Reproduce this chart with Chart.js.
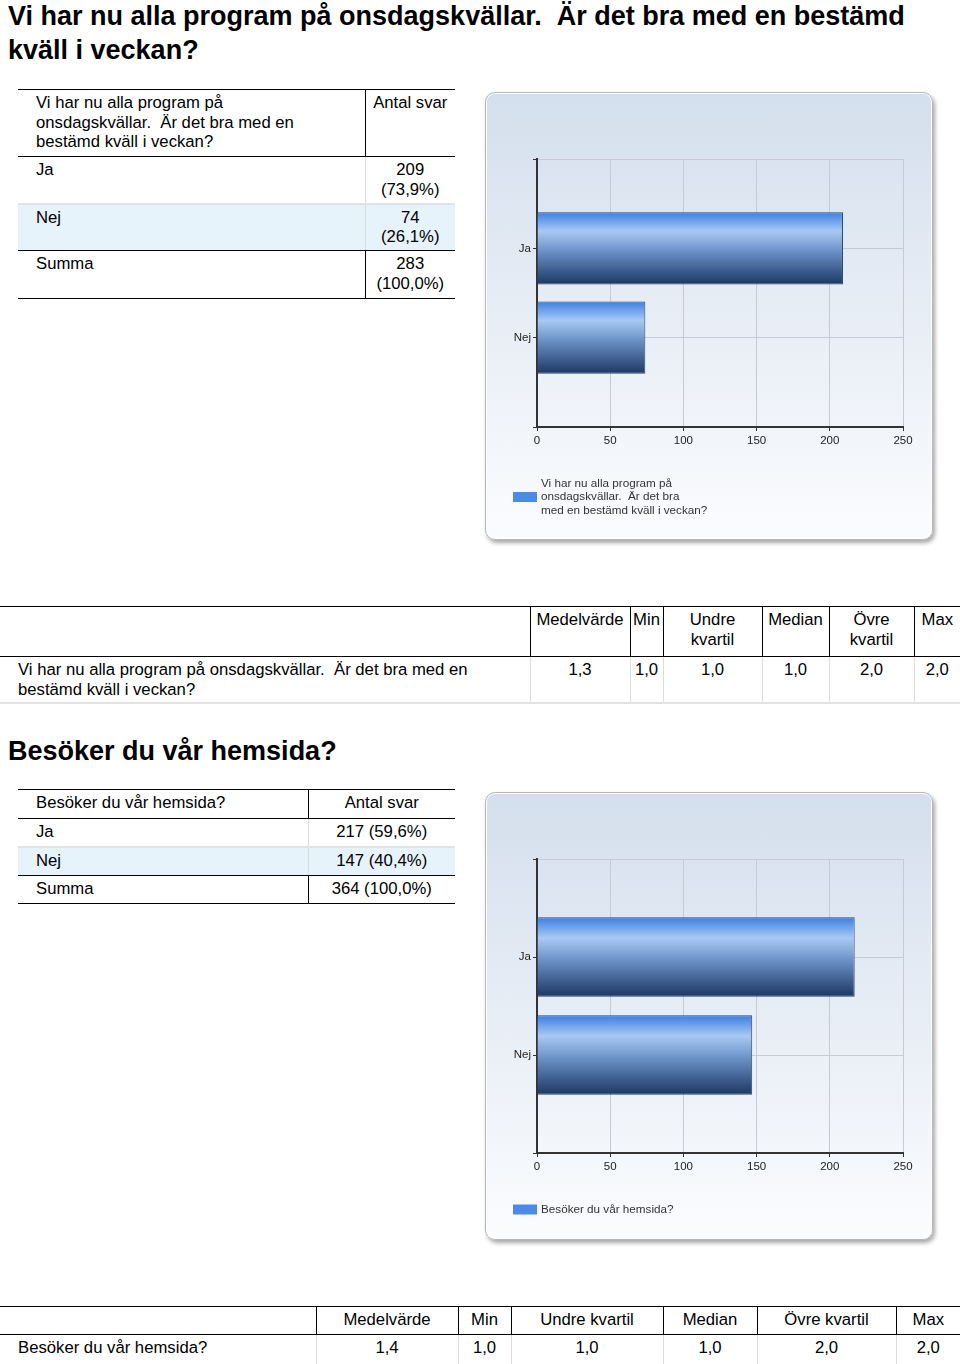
<!DOCTYPE html>
<html>
<head>
<meta charset="utf-8">
<script src="https://cdn.jsdelivr.net/npm/chart.js@4.4.1/dist/chart.umd.min.js"></script>
<style>
  body {
    margin: 0;
    width: 960px;
    height: 1364px;
    position: relative;
    overflow: hidden;
    background: #fff;
    color: #000;
    font-family: "Liberation Sans", Arial, sans-serif;
  }
  h1 {
    position: absolute;
    left: 8px;
    margin: 0;
    font-size: 27px;
    line-height: 34px;
    font-weight: bold;
  }
  table {
    position: absolute;
    border-collapse: collapse;
    table-layout: fixed;
    font-size: 16.7px;
    line-height: 19.5px;
  }
  td {
    padding: 3px 0 0 0;
    vertical-align: top;
    box-sizing: border-box;
  }
  .dark-top td { border-top: 1px solid #000; }
  .dark-bot td { border-bottom: 1px solid #000; }
  .light-bot td { border-bottom: 2px solid #e2e2e2; }
  .lbl { padding-left: 18px; }
  .num { text-align: center; }
  .dv { border-left: 1px solid #000; }
  .lv { border-left: 1px solid #dcdcdc; }
  .alt td { background: #e7f3fb; }
  .chartbox {
    position: absolute;
    left: 485px;
    width: 448px;
    height: 448px;
    box-sizing: border-box;
    border: 1px solid #b8b8b8;
    border-radius: 10px;
    background: linear-gradient(#d4dfed, #fbfcfe);
    box-shadow: 2px 3px 4px rgba(0, 0, 0, 0.35), inset 0 0 0 1px #fff;
  }
  .chartbox canvas {
    position: absolute;
    left: -1px;
    top: -1px;
  }
</style>
</head>
<body>

<h1 style="top:-1px">Vi har nu alla program på onsdagskvällar.&nbsp; Är det bra med en bestämd<br>kväll i veckan?</h1>

<table style="left:18px;top:89px;width:437px">
  <colgroup><col style="width:347px"><col style="width:90px"></colgroup>
  <tr class="dark-top dark-bot" style="height:67px">
    <td class="lbl">Vi har nu alla program på<br>onsdagskvällar.&nbsp; Är det bra med en<br>bestämd kväll i veckan?</td>
    <td class="num dv">Antal svar</td>
  </tr>
  <tr class="light-bot" style="height:47px">
    <td class="lbl" id="t1-c0"></td><td class="num lv" id="t1-v0"></td>
  </tr>
  <tr class="alt dark-bot" style="height:47px">
    <td class="lbl" id="t1-c1"></td><td class="num lv" id="t1-v1"></td>
  </tr>
  <tr class="dark-bot" style="height:48px">
    <td class="lbl">Summa</td><td class="num dv" id="t1-sum"></td>
  </tr>
</table>

<div class="chartbox" style="top:92px"><canvas id="chart1" width="448" height="448"></canvas></div>

<table id="s1" style="left:0;top:606px;width:960px">
  <colgroup>
    <col style="width:530px"><col style="width:100px"><col style="width:33px">
    <col style="width:99px"><col style="width:67px"><col style="width:85px"><col style="width:46px">
  </colgroup>
  <tr class="dark-top dark-bot" style="height:50px">
    <td></td>
    <td class="num dv">Medelvärde</td><td class="num dv">Min</td><td class="num dv">Undre<br>kvartil</td>
    <td class="num dv">Median</td><td class="num dv">Övre<br>kvartil</td><td class="num dv">Max</td>
  </tr>
  <tr class="light-bot" style="height:46px">
    <td class="lbl">Vi har nu alla program på onsdagskvällar.&nbsp; Är det bra med en<br>bestämd kväll i veckan?</td>
    <td class="num lv"></td><td class="num lv"></td><td class="num lv"></td>
    <td class="num lv"></td><td class="num lv"></td><td class="num lv"></td>
  </tr>
</table>

<h1 style="top:734px">Besöker du vår hemsida?</h1>

<table style="left:18px;top:789px;width:437px">
  <colgroup><col style="width:290px"><col style="width:147px"></colgroup>
  <tr class="dark-top dark-bot" style="height:29px">
    <td class="lbl">Besöker du vår hemsida?</td><td class="num dv">Antal svar</td>
  </tr>
  <tr class="light-bot" style="height:28px">
    <td class="lbl" id="t2-c0"></td><td class="num lv" id="t2-v0"></td>
  </tr>
  <tr class="alt dark-bot" style="height:29px">
    <td class="lbl" id="t2-c1"></td><td class="num lv" id="t2-v1"></td>
  </tr>
  <tr class="dark-bot" style="height:28px">
    <td class="lbl">Summa</td><td class="num dv" id="t2-sum"></td>
  </tr>
</table>

<div class="chartbox" style="top:792px"><canvas id="chart2" width="448" height="448"></canvas></div>

<table id="s2" style="left:0;top:1306px;width:960px">
  <colgroup>
    <col style="width:316px"><col style="width:142px"><col style="width:53px">
    <col style="width:152px"><col style="width:94px"><col style="width:139px"><col style="width:64px">
  </colgroup>
  <tr class="dark-top dark-bot" style="height:28px">
    <td></td>
    <td class="num dv">Medelvärde</td><td class="num dv">Min</td><td class="num dv">Undre kvartil</td>
    <td class="num dv">Median</td><td class="num dv">Övre kvartil</td><td class="num dv">Max</td>
  </tr>
  <tr class="light-bot" style="height:30px">
    <td class="lbl">Besöker du vår hemsida?</td>
    <td class="num lv"></td><td class="num lv"></td><td class="num lv"></td>
    <td class="num lv"></td><td class="num lv"></td><td class="num lv"></td>
  </tr>
</table>

<script>
const categories = ["Ja", "Nej"];

// Vi har nu alla program på onsdagskvällar...
const onsdagCounts = [209, 74];
const onsdagPercents = ["73,9%", "26,1%"];
const onsdagTotal = "283 (100,0%)";
const onsdagStats = ["1,3", "1,0", "1,0", "1,0", "2,0", "2,0"];
const onsdagLegend = ["Vi har nu alla program på", "onsdagskvällar.  Är det bra", "med en bestämd kväll i veckan?"];

// Besöker du vår hemsida?
const hemsidaCounts = [217, 147];
const hemsidaPercents = ["59,6%", "40,4%"];
const hemsidaTotal = "364 (100,0%)";
const hemsidaStats = ["1,4", "1,0", "1,0", "1,0", "2,0", "2,0"];
const hemsidaLegend = ["Besöker du vår hemsida?"];

const xTicks = [0, 50, 100, 150, 200, 250];

// fill the tables
function fillTables(prefix, counts, percents, total, sep) {
  categories.forEach((c, i) => {
    document.getElementById(prefix + "-c" + i).textContent = c;
    document.getElementById(prefix + "-v" + i).innerHTML = counts[i] + sep + "(" + percents[i] + ")";
  });
  document.getElementById(prefix + "-sum").innerHTML = total.replace(" ", sep);
}
fillTables("t1", onsdagCounts, onsdagPercents, onsdagTotal, "<br>");
fillTables("t2", hemsidaCounts, hemsidaPercents, hemsidaTotal, " ");

function fillStats(id, stats) {
  const cells = document.querySelectorAll("#" + id + " tr:nth-child(2) td.num");
  cells.forEach((td, i) => { td.textContent = stats[i]; });
}
fillStats("s1", onsdagStats);
fillStats("s2", hemsidaStats);

const FONT = '"Liberation Sans", Arial, sans-serif';
const BAR_PCT = 0.81;

function barFill(c) {
  const chart = c.chart;
  const y = chart.scales.y;
  if (c.type !== "data" || !y || !chart.chartArea) return "#4a86e0";
  const step = y.getPixelForValue(1) - y.getPixelForValue(0);
  const mid = y.getPixelForValue(c.dataIndex);
  const half = step * BAR_PCT / 2;
  if (!isFinite(mid) || !isFinite(half)) return "#4a86e0";
  const g = chart.ctx.createLinearGradient(0, mid - half, 0, mid + half);
  g.addColorStop(0, "#3b7ee4");
  g.addColorStop(0.26, "#a8c9f3");
  g.addColorStop(0.55, "#6a8fc6");
  g.addColorStop(1, "#1c3763");
  return g;
}

// legend under the x axis (swatch + wrapped lines)
const boxLegend = {
  id: "boxLegend",
  afterDraw(chart, args, opts) {
    const ctx = chart.ctx;
    const lines = opts.lines;
    const lh = 13.5;
    const y0 = chart.chartArea.bottom + 56.5;
    ctx.save();
    ctx.font = "11.7px " + FONT;
    ctx.fillStyle = "#333";
    ctx.textBaseline = "middle";
    lines.forEach((t, i) => ctx.fillText(t, 56, y0 + i * lh));
    const mid = y0 + (lines.length - 1) * lh / 2;
    ctx.fillStyle = "#4a8ae8";
    ctx.fillRect(28, mid - 5, 24, 10);
    ctx.restore();
  }
};

function makeChart(id, counts, legendLines, bottomPad) {
  const ctx = document.getElementById(id).getContext("2d");
  return new Chart(ctx, {
    type: "bar",
    data: {
      labels: ["", ...categories, ""],
      datasets: [{
        label: legendLines.join(" "),
        data: [null, ...counts, null],
        backgroundColor: barFill,
        borderColor: "#2b4670",
        borderWidth: 1,
        barPercentage: BAR_PCT,
        categoryPercentage: 1,
      }],
    },
    options: {
      indexAxis: "y",
      responsive: false,
      animation: false,
      layout: { padding: { left: 12, top: 67, right: 30, bottom: bottomPad } },
      plugins: {
        legend: { display: false },
        tooltip: { enabled: false },
        boxLegend: { lines: legendLines },
      },
      scales: {
        x: {
          type: "linear",
          min: xTicks[0],
          max: xTicks[xTicks.length - 1],
          afterBuildTicks: (s) => { s.ticks = xTicks.map((v) => ({ value: v })); },
          grid: { color: "#c5cad4", tickColor: "#333", tickLength: 4 },
          border: { color: "#333", width: 2 },
          ticks: { color: "#222", font: { size: 11.5, family: FONT }, padding: 3 },
          afterFit: (s) => { s.height = 25; },
        },
        y: {
          type: "category",
          offset: false,
          grid: { offset: false, color: "#c5cad4", tickColor: "#333", tickLength: 4 },
          border: { color: "#333", width: 2 },
          ticks: { color: "#222", font: { size: 11.5, family: FONT }, padding: 2, autoSkip: false },
          afterFit: (s) => { s.width = 40; },
        },
      },
    },
    plugins: [boxLegend],
  });
}

makeChart("chart1", onsdagCounts, onsdagLegend, 88);
makeChart("chart2", hemsidaCounts, hemsidaLegend, 62);
</script>
</body>
</html>
